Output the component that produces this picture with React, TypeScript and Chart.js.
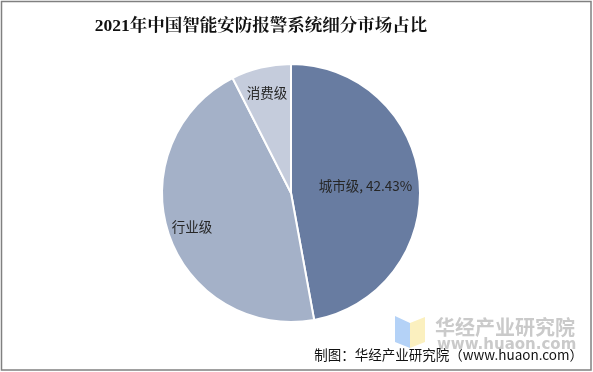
import React, { useEffect, useRef } from "react";
import { Chart, registerables } from "chart.js";

Chart.register(...registerables);

const titleText = "2021年中国智能安防报警系统细分市场占比";
const sourceText = "制图：华经产业研究院（www.huaon.com）";
const categories = ["城市级", "行业级", "消费级"];
const values = [42.43, 40.86, 6.74];
const sliceColors = ["#687CA1", "#A4B1C8", "#C5CCDC"];
const labelTexts = ["城市级, 42.43%", "行业级", "消费级"];
const labelRadiusFrac = [0.58, 0.81, 0.8];

const overlayPlugin = {
  id: "overlay",
  afterDatasetsDraw(chart: any) {
    const ctx = chart.ctx as CanvasRenderingContext2D;
    const meta = chart.getDatasetMeta(0);
    ctx.save();
    ctx.fillStyle = "#262626";
    ctx.font = '13.5px "Noto Sans CJK SC", "Liberation Sans", sans-serif';
    ctx.textAlign = "center";
    ctx.textBaseline = "middle";
    meta.data.forEach((arc: any, i: number) => {
      const p = arc.getProps(["x", "y", "startAngle", "endAngle", "outerRadius"], true);
      const mid = (p.startAngle + p.endAngle) / 2;
      const r = p.outerRadius * labelRadiusFrac[i];
      ctx.fillText(labelTexts[i], p.x + Math.cos(mid) * r, p.y + Math.sin(mid) * r);
    });

    // title
    ctx.fillStyle = "#111";
    ctx.font = 'bold 17.5px "Liberation Serif", "Noto Serif CJK SC", "Noto Sans CJK SC", serif';
    ctx.fillText(titleText, 261, 26);

    // watermark logo
    ctx.fillStyle = "#B4D2F7";
    ctx.beginPath();
    ctx.moveTo(395, 316);
    ctx.lineTo(410, 323);
    ctx.lineTo(410, 348);
    ctx.lineTo(395, 342);
    ctx.closePath();
    ctx.fill();
    ctx.fillStyle = "#FBF0BF";
    ctx.beginPath();
    ctx.moveTo(410, 323);
    ctx.lineTo(425, 317);
    ctx.lineTo(425, 342);
    ctx.lineTo(410, 348);
    ctx.closePath();
    ctx.fill();
    ctx.fillStyle = "#CACACA";
    ctx.textAlign = "left";
    ctx.font = 'bold 20px "Noto Sans CJK SC", sans-serif';
    ctx.fillText("华经产业研究院", 435, 327);
    ctx.font = 'bold 15px "DejaVu Sans", sans-serif';
    ctx.fillText("www.huaon.com", 437, 345);

    // source
    ctx.fillStyle = "#111";
    ctx.font = '13.5px "Noto Sans CJK SC", "Liberation Sans", sans-serif';
    ctx.textAlign = "right";
    ctx.fillText(sourceText, 583, 355);

    // frame
    ctx.strokeStyle = "#808080";
    ctx.lineWidth = 1.5;
    ctx.strokeRect(1.5, 1.5, 589.5, 368.5);
    ctx.restore();
  },
};

export default function App() {
  const ref = useRef<HTMLCanvasElement | null>(null);
  useEffect(() => {
    if (!ref.current) return;
    const chart = new Chart(ref.current, {
      type: "pie",
      data: {
        labels: categories,
        datasets: [
          {
            data: values,
            backgroundColor: sliceColors,
            borderColor: "#ffffff",
            borderWidth: 2,
            hoverOffset: 0,
          },
        ],
      },
      options: {
        responsive: false,
        animation: false,
        layout: { padding: { left: 161, right: 172, top: 63, bottom: 49 } },
        plugins: {
          legend: { display: false },
          title: { display: false },
          tooltip: { enabled: false },
        },
      },
      plugins: [overlayPlugin],
    });
    return () => chart.destroy();
  }, []);
  return (
    <div style={{ position: "fixed", left: 0, top: 0, width: 593, height: 372, background: "#fff" }}>
      <canvas ref={ref} width={593} height={372} style={{ display: "block" }} />
    </div>
  );
}
